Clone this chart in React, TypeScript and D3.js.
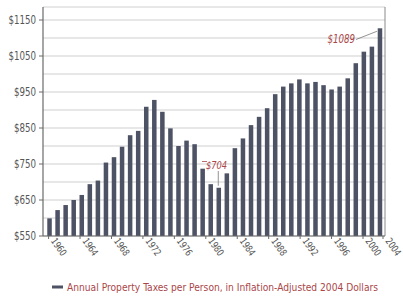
import React, {useEffect, useRef} from "react";
import * as d3 from "d3";

// Annual property taxes per person, inflation-adjusted 2004 dollars
const years = d3.range(1960, 2002);
const taxes = [
    599, 622, 636, 650, 664, 694, 704, 754, 769, 798,
    830, 842, 909, 928, 895, 849, 800, 815, 805, 737,
    694, 684, 724, 794, 821, 858, 881, 905, 944, 965,
    974, 985, 974, 978, 969, 957, 965, 988, 1030, 1062,
    1076, 1127,
];
const yTickValues = [550, 650, 750, 850, 950, 1050, 1150];
const xTickYears = [1960, 1964, 1968, 1972, 1976, 1980, 1984, 1988, 1992, 1996, 2000, 2004];
const legendLabel = "Annual Property Taxes per Person, in Inflation-Adjusted 2004 Dollars";
const lowYear = 1981; // the early-80s dip that carries the "$704" callout

const FONT = "'DejaVu Sans Condensed', 'Liberation Sans', sans-serif";
const RED = "#a9464a";
const SQUEEZE = 0.84; // narrow the type, the original uses a condensed face

export default function App() {
    const svgRef = useRef<SVGSVGElement | null>(null);

    useEffect(() => {
        if (!svgRef.current) return;
        const svg = d3.select(svgRef.current);
        svg.selectAll("*").remove();

        const left = 43, right = 385, top = 7, bottom = 236;

        const x = d3
            .scaleBand<string>()
            .domain(years.map(String))
            .range([45.5, 384])
            .paddingInner(0.44)
            .paddingOuter(0.22);

        const y = d3.scaleLinear().domain([550, 1150]).range([bottom, 20]);

        // label positions along the bottom (the last one sits at the axis end)
        const xt = d3.scaleLinear().domain([1960, 2000, 2004]).range([48.6, 363, 383]);

        svg.append("rect").attr("width", 403).attr("height", 297).attr("fill", "#fff");

        // gridlines
        svg.append("g")
            .selectAll("line")
            .data(d3.range(550, 1151, 50))
            .join("line")
            .attr("x1", left)
            .attr("x2", right)
            .attr("y1", (d) => y(d))
            .attr("y2", (d) => y(d))
            .attr("stroke", "#cfcfcf")
            .attr("stroke-width", 1);

        // frame
        svg.append("line").attr("x1", left).attr("x2", right).attr("y1", top).attr("y2", top)
            .attr("stroke", "#d0d0d0");
        svg.append("line").attr("x1", right).attr("x2", right).attr("y1", top).attr("y2", bottom)
            .attr("stroke", "#8a8a8a");

        // bars
        svg.append("g")
            .selectAll("rect")
            .data(taxes)
            .join("rect")
            .attr("x", (_, i) => x(String(years[i]))!)
            .attr("width", x.bandwidth())
            .attr("y", (d) => y(d))
            .attr("height", (d) => bottom - y(d))
            .attr("fill", "#4e5265");

        // axes lines
        svg.append("line").attr("x1", left).attr("x2", left).attr("y1", top).attr("y2", bottom)
            .attr("stroke", "#6a6a6a").attr("stroke-width", 1.2);
        svg.append("line").attr("x1", left).attr("x2", right).attr("y1", bottom).attr("y2", bottom)
            .attr("stroke", "#6a6a6a").attr("stroke-width", 1.2);

        // y ticks + labels
        const yAxis = svg.append("g");
        yAxis.selectAll("line")
            .data(yTickValues)
            .join("line")
            .attr("x1", left - 4)
            .attr("x2", left)
            .attr("y1", (d) => y(d))
            .attr("y2", (d) => y(d))
            .attr("stroke", "#6a6a6a");
        yAxis.selectAll("text")
            .data(yTickValues)
            .join("text")
            .attr("transform", (d) => `translate(36, ${y(d) + 4}) scale(${SQUEEZE}, 1)`)
            .attr("text-anchor", "end")
            .attr("font-family", FONT)
            .attr("font-size", 11.5)
            .attr("fill", "#555")
            .text((d) => `$${d}`);

        // x ticks + rotated labels
        const xAxis = svg.append("g");
        xAxis.selectAll("line")
            .data(xTickYears)
            .join("line")
            .attr("x1", (d) => xt(d))
            .attr("x2", (d) => xt(d))
            .attr("y1", bottom)
            .attr("y2", bottom + 3)
            .attr("stroke", "#6a6a6a");
        xAxis.selectAll("text")
            .data(xTickYears)
            .join("text")
            .attr("transform", (d) =>
                `translate(${xt(d) + 2}, ${bottom + 5}) rotate(55) scale(${SQUEEZE}, 1)`)
            .attr("text-anchor", "start")
            .attr("font-family", FONT)
            .attr("font-size", 10)
            .attr("fill", "#555")
            .text((d) => d);

        // annotations
        const last = taxes.length - 1;
        const lastX = x(String(years[last]))! + x.bandwidth() / 2;
        svg.append("line")
            .attr("x1", 356).attr("y1", 39.5)
            .attr("x2", lastX - 3).attr("y2", y(taxes[last]) + 3)
            .attr("stroke", "#777").attr("stroke-width", 0.8);
        svg.append("text")
            .attr("transform", `translate(355, 43) scale(${SQUEEZE}, 1)`)
            .attr("text-anchor", "end")
            .attr("font-family", FONT)
            .attr("font-style", "italic")
            .attr("font-size", 11.5)
            .attr("fill", RED)
            .text("$1089");

        const lowIdx = years.indexOf(lowYear);
        const lowX = x(String(lowYear))! + x.bandwidth() / 2;
        svg.append("line")
            .attr("x1", lowX - 0.5).attr("y1", 171)
            .attr("x2", lowX - 0.5).attr("y2", y(taxes[lowIdx]) - 2)
            .attr("stroke", "#777").attr("stroke-width", 0.8);
        svg.append("line")
            .attr("x1", 202).attr("x2", 207).attr("y1", 161.5).attr("y2", 161.5)
            .attr("stroke", RED).attr("stroke-width", 0.8);
        svg.append("text")
            .attr("transform", `translate(206, 169) scale(${SQUEEZE}, 1)`)
            .attr("font-family", FONT)
            .attr("font-style", "italic")
            .attr("font-size", 11)
            .attr("fill", RED)
            .text("$704");

        // legend
        svg.append("line")
            .attr("x1", 52).attr("x2", 63).attr("y1", 287).attr("y2", 287)
            .attr("stroke", "#4e5265").attr("stroke-width", 3);
        svg.append("text")
            .attr("x", 67).attr("y", 291)
            .attr("font-family", FONT)
            .attr("font-size", 10)
            .attr("textLength", 311)
            .attr("lengthAdjust", "spacingAndGlyphs")
            .attr("fill", RED)
            .text(legendLabel);
    }, []);

    return (
        <svg
            ref={svgRef}
            width={403}
            height={297}
            style={{position: "absolute", left: 0, top: 0}}
        />
    );
}
